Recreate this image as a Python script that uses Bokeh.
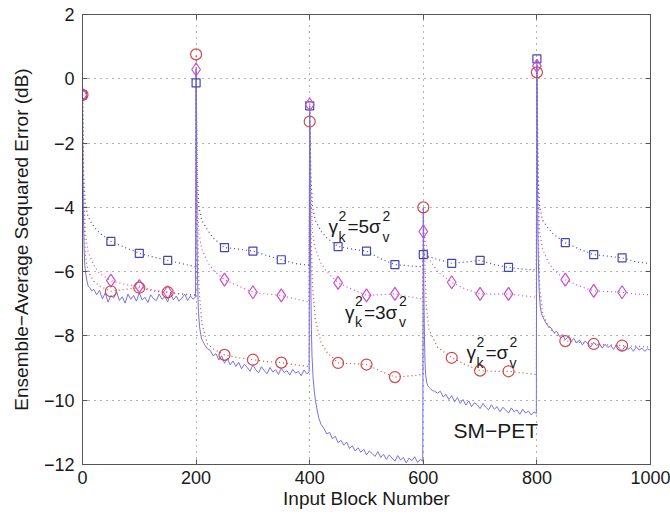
from bokeh.plotting import figure
from bokeh.models import Label, LinearAxis, FixedTicker, Range1d
from bokeh.embed import file_html
from bokeh.resources import INLINE

FONT = "Liberation Sans"

# ---------------- data ----------------
x_ticks = [0, 200, 400, 600, 800, 1000]
y_ticks = [-12, -10, -8, -6, -4, -2, 0, 2]
y_tick_labels = ["\u221212", "\u221210", "\u22128", "\u22126", "\u22124", "\u22122", "0", "2"]

# SM-PET (solid): segment starts and block offsets inside each 200-block segment
seg_starts = [0, 200, 400, 600, 800]
smpet_offsets = [0, 1, 2, 3, 4, 6, 8, 10, 13, 16, 20] + list(range(25, 200, 5)) + [199]
smpet_seg0 = [-0.5, -3.2, -4.6, -5.4, -5.8, -6.1, -6.3, -6.45, -6.5, -6.6, -6.55,
              -6.72, -6.58, -6.85, -6.66, -6.95, -6.74, -6.82, -6.62, -6.90, -6.78,
              -6.98, -6.70, -6.86, -6.74, -6.92, -6.66, -6.88, -6.80, -6.96, -6.72,
              -6.84, -6.90, -6.70, -6.86, -6.78, -6.94, -6.68, -6.88, -6.76, -6.92,
              -6.82, -6.70, -6.90, -6.76, -6.86,
              -6.78]
smpet_seg1 = [0.3, -3.5, -5.5, -6.6, -7.2, -7.7, -7.95, -8.1, -8.2, -8.3, -8.4,
              -8.45, -8.62, -8.55, -8.75, -8.62, -8.85, -8.70, -8.90, -8.78, -8.95,
              -8.82, -9.02, -8.88, -8.98, -9.10, -8.90, -9.05, -9.15, -8.96, -9.08,
              -9.18, -8.98, -9.12, -9.05, -9.20, -9.00, -9.14, -9.08, -9.22, -9.04,
              -9.16, -9.10, -9.24, -9.06, -9.18,
              -9.12]
smpet_seg2 = [-0.84, -4.0, -6.5, -7.8, -8.6, -9.3, -9.7, -10.0, -10.3, -10.55, -10.75,
              -10.88, -11.05, -11.00, -11.20, -11.12, -11.32, -11.25, -11.40, -11.30, -11.50,
              -11.42, -11.58, -11.48, -11.62, -11.52, -11.70, -11.58, -11.66, -11.75, -11.60,
              -11.78, -11.68, -11.84, -11.70, -11.80, -11.90, -11.72, -11.86, -11.78, -11.95,
              -11.80, -11.88, -11.76, -11.94, -11.84,
              -11.90]
smpet_seg3 = [-4.0, -6.5, -8.0, -8.8, -9.2, -9.45, -9.55, -9.6, -9.65, -9.7, -9.72,
              -9.78, -9.72, -9.90, -9.82, -9.98, -9.86, -10.05, -9.92, -10.10, -9.98,
              -10.15, -10.02, -10.20, -10.08, -10.14, -10.26, -10.10, -10.22, -10.30, -10.14,
              -10.28, -10.20, -10.36, -10.22, -10.30, -10.40, -10.24, -10.36, -10.30, -10.44,
              -10.28, -10.40, -10.34, -10.46, -10.36,
              -10.42]
smpet_seg4 = [0.4, -3.0, -5.0, -6.0, -6.6, -7.1, -7.3, -7.4, -7.5, -7.6, -7.7,
              -7.75, -7.90, -7.86, -8.02, -7.96, -8.12, -8.02, -8.18, -8.08, -8.22,
              -8.12, -8.28, -8.16, -8.24, -8.34, -8.20, -8.30, -8.24, -8.38, -8.26,
              -8.36, -8.30, -8.42, -8.28, -8.38, -8.46, -8.32, -8.42, -8.36, -8.48,
              -8.34, -8.44, -8.38, -8.48, -8.40,
              -8.44]

# marker positions (every 50 blocks)
marker_x = [0, 50, 100, 150, 200, 250, 300, 350, 400, 450, 500, 550,
            600, 650, 700, 750, 800, 850, 900, 950]
sq_marker_y = [-0.5, -5.06, -5.43, -5.65, -0.13, -5.25, -5.36, -5.63, -0.84, -5.22, -5.36, -5.78,
               -5.47, -5.74, -5.65, -5.87, 0.62, -5.1, -5.47, -5.57]
dm_marker_y = [-0.5, -6.28, -6.45, -6.64, 0.29, -6.25, -6.64, -6.74, -0.8, -6.35, -6.74, -6.69,
               -4.75, -6.33, -6.69, -6.69, 0.4, -6.25, -6.6, -6.64]
ci_marker_y = [-0.5, -6.61, -6.5, -6.64, 0.76, -8.59, -8.74, -8.83, -1.33, -8.84, -8.89, -9.28,
               -4.0, -8.68, -9.08, -9.1, 0.2, -8.16, -8.25, -8.3]

# dotted learning curves
sq_line_x = [0, 2, 5, 10, 20, 30, 50, 75, 100, 125, 150, 175, 199,
             200, 202, 205, 210, 220, 230, 250, 275, 300, 325, 350, 375, 399,
             400, 402, 405, 410, 420, 430, 450, 475, 500, 525, 550, 575, 599,
             600, 625, 650, 675, 700, 725, 750, 775, 799,
             800, 802, 805, 810, 820, 830, 850, 875, 900, 925, 950, 975, 1000]
sq_line_y = [-0.5, -3.0, -3.9, -4.3, -4.6, -4.8, -5.06, -5.25, -5.43, -5.55, -5.65, -5.75, -5.85,
             -0.13, -3.0, -4.0, -4.4, -4.7, -4.95, -5.25, -5.3, -5.36, -5.5, -5.63, -5.75, -5.8,
             -0.84, -3.0, -4.0, -4.4, -4.75, -4.95, -5.22, -5.3, -5.36, -5.6, -5.78, -5.82, -5.85,
             -5.47, -5.62, -5.74, -5.7, -5.65, -5.78, -5.87, -5.92, -5.95,
             0.62, -3.0, -4.0, -4.4, -4.65, -4.85, -5.1, -5.3, -5.47, -5.52, -5.57, -5.7, -5.75]
dm_line_x = [0, 2, 5, 10, 20, 30, 50, 75, 100, 125, 150, 175, 199,
             200, 202, 205, 210, 220, 230, 250, 275, 300, 325, 350, 375, 399,
             400, 402, 405, 410, 420, 430, 450, 475, 500, 525, 550, 575, 599,
             600, 610, 625, 650, 675, 700, 725, 750, 775, 799,
             800, 802, 805, 810, 820, 830, 850, 875, 900, 925, 950, 975, 1000]
dm_line_y = [-0.5, -3.5, -4.8, -5.4, -5.8, -6.05, -6.28, -6.4, -6.45, -6.58, -6.64, -6.7, -6.75,
             0.29, -3.5, -4.8, -5.3, -5.7, -5.95, -6.25, -6.45, -6.64, -6.7, -6.74, -6.85, -6.95,
             -0.8, -3.5, -4.8, -5.3, -5.75, -6.0, -6.35, -6.55, -6.74, -6.72, -6.69, -6.78, -6.85,
             -4.75, -5.6, -6.0, -6.33, -6.55, -6.69, -6.7, -6.69, -6.75, -6.8,
             0.4, -3.5, -4.8, -5.3, -5.7, -5.95, -6.25, -6.45, -6.6, -6.62, -6.64, -6.7, -6.72]
ci_line_x = [0, 2, 5, 10, 20, 30, 50, 75, 100, 125, 150, 175, 199,
             200, 202, 205, 210, 220, 230, 250, 275, 300, 325, 350, 375, 399,
             400, 402, 405, 410, 420, 430, 450, 475, 500, 525, 550, 575, 599,
             600, 605, 610, 625, 650, 675, 700, 725, 750, 775, 799,
             800, 802, 805, 810, 820, 830, 850, 875, 900, 925, 950, 975, 1000]
ci_line_y = [-0.5, -4.0, -5.5, -6.0, -6.3, -6.45, -6.61, -6.55, -6.5, -6.6, -6.64, -6.7, -6.72,
             0.76, -4.0, -6.5, -7.6, -8.25, -8.4, -8.59, -8.68, -8.74, -8.8, -8.83, -8.9, -8.95,
             -1.33, -4.5, -6.5, -7.5, -8.2, -8.5, -8.84, -8.86, -8.89, -9.1, -9.28, -9.25, -9.2,
             -4.0, -7.0, -7.8, -8.35, -8.68, -8.9, -9.08, -9.1, -9.1, -9.15, -9.2,
             0.2, -4.5, -6.5, -7.3, -7.7, -7.9, -8.16, -8.2, -8.25, -8.28, -8.3, -8.32, -8.35]

# ---------------- build ----------------
smpet_x = []
smpet_y = []
for start, seg in zip(seg_starts, [smpet_seg0, smpet_seg1, smpet_seg2, smpet_seg3, smpet_seg4]):
    smpet_x += [start + o for o in smpet_offsets]
    smpet_y += seg

C_SQ = "#4646b0"
C_DM = "#cc4fcc"
C_CI = "#d04848"
C_SM = "#7474e0"
AX = "#555555"
TXT = "#1a1a1a"

p = figure(width=670, height=514, x_range=Range1d(0, 1000), y_range=Range1d(-12, 2),
           output_backend="svg", toolbar_location=None,
           min_border_left=82, min_border_right=20, min_border_top=14, min_border_bottom=50)
p.background_fill_color = "white"
p.border_fill_color = "white"
p.outline_line_color = AX
p.outline_line_width = 1

# dotted curves
p.line(sq_line_x, sq_line_y, line_color=C_SQ, line_dash="1 3", line_width=1.2)
p.line(dm_line_x, dm_line_y, line_color=C_DM, line_dash="1 3", line_width=1.2)
p.line(ci_line_x, ci_line_y, line_color=C_CI, line_dash="1 3", line_width=1.2)
# SM-PET solid
p.line(smpet_x, smpet_y, line_color=C_SM, line_width=1)
# markers
p.scatter(marker_x, sq_marker_y, marker="square", size=8, fill_color=None, line_color=C_SQ, line_width=1.2)
p.scatter(marker_x, dm_marker_y, marker="diamond", size=13, fill_color=None, line_color=C_DM, line_width=1.2)
p.scatter(marker_x, ci_marker_y, marker="circle", size=11, fill_color=None, line_color=C_CI, line_width=1.2)

# axes
p.xaxis.ticker = FixedTicker(ticks=x_ticks)
p.yaxis.ticker = FixedTicker(ticks=y_ticks)
p.yaxis.major_label_overrides = {t: l for t, l in zip(y_ticks, y_tick_labels)}
for ax in (p.xaxis[0], p.yaxis[0]):
    ax.axis_line_color = AX
    ax.major_tick_line_color = AX
    ax.major_tick_in = 5
    ax.major_tick_out = 0
    ax.minor_tick_line_color = None
    ax.major_label_text_font = FONT
    ax.major_label_text_font_size = "18px"
    ax.major_label_text_color = TXT
    ax.axis_label_text_font = FONT
    ax.axis_label_text_font_size = "19px"
    ax.axis_label_text_font_style = "normal"
    ax.axis_label_text_color = TXT
p.xaxis.axis_label = "Input Block Number"
p.yaxis.axis_label = "Ensemble\u2212Average Sequared Error (dB)"
p.xaxis.major_label_standoff = 6
p.xaxis.axis_label_standoff = 1
p.yaxis.major_label_standoff = 8
p.yaxis.axis_label_standoff = 9

for side, ticks in (("above", x_ticks), ("right", y_ticks)):
    a = LinearAxis(ticker=FixedTicker(ticks=ticks), major_label_text_color=None,
                   major_label_standoff=0, major_tick_in=5, major_tick_out=0,
                   minor_tick_line_color=None, axis_line_color=AX, major_tick_line_color=AX)
    p.add_layout(a, side)

for g, ticks in ((p.xgrid[0], x_ticks), (p.ygrid[0], y_ticks)):
    g.ticker = FixedTicker(ticks=ticks)
    g.grid_line_color = "#666666"
    g.grid_line_dash = "1 5"
    g.grid_line_width = 1


def math_label(x, y, body, sup_dx):
    parts = [("\u03b3", 0, 0, 19), ("2", 10, 11, 14), ("k", 10, -10, 14),
             (body, 19, 0, 19), ("2", sup_dx, 11, 14), ("v", sup_dx, -10, 14)]
    for txt, dx, dy, size in parts:
        p.add_layout(Label(x=x, y=y, x_offset=dx, y_offset=dy, text=txt,
                           text_font=FONT, text_font_size=f"{size}px",
                           text_baseline="alphabetic", text_align="left", text_color=TXT))


math_label(433, -4.6, "=5\u03c3", 54)
math_label(462, -7.27, "=3\u03c3", 54)
math_label(676, -8.52, "=\u03c3", 43)
p.add_layout(Label(x=653, y=-10.95, text="SM\u2212PET", text_font=FONT, text_font_size="21px",
                   text_baseline="alphabetic", text_color=TXT))

open("out.html", "w").write(file_html(p, INLINE))
